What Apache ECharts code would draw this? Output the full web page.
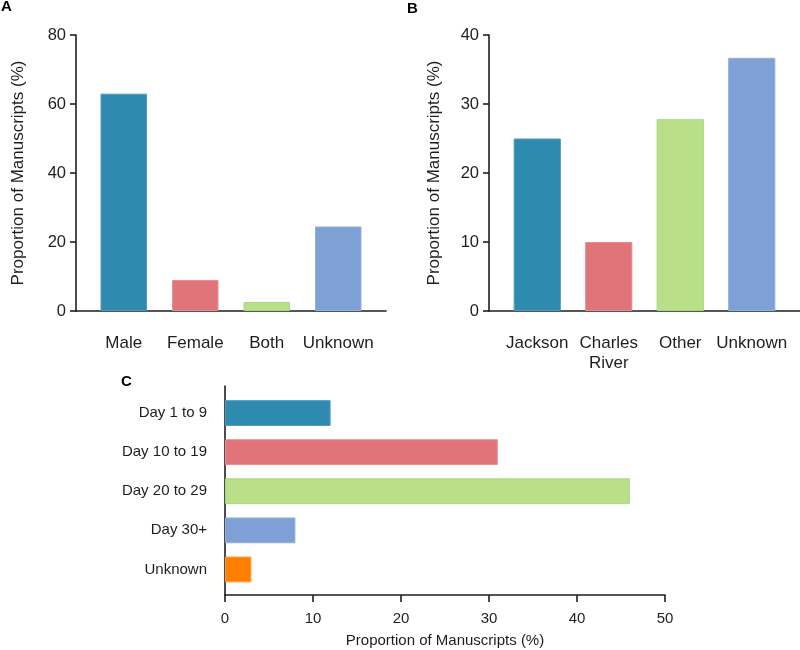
<!DOCTYPE html>
<html>
<head>
<meta charset="utf-8">
<script src="https://cdn.jsdelivr.net/npm/echarts@6/dist/echarts.min.js"></script>
<style>html,body{margin:0;padding:0;background:#fff}#c{width:800px;height:650px}</style>
</head>
<body>
<div id="c"></div>
<script>
// ---- Data ----
const sexCategories = ['Male', 'Female', 'Both', 'Unknown'];
const sexValues = [63, 9, 2.6, 24.5];
const sexTicks = [0, 20, 40, 60, 80];

const vendorCategories = ['Jackson', 'Charles\nRiver', 'Other', 'Unknown'];
const vendorValues = [25, 10, 27.8, 36.7];
const vendorTicks = [0, 10, 20, 30, 40];

const ageCategories = ['Day 1 to 9', 'Day 10 to 19', 'Day 20 to 29', 'Day 30+', 'Unknown'];
const ageValues = [12, 31, 46, 8, 3];
const ageTicks = [0, 10, 20, 30, 40, 50];

const yTitle = 'Proportion of Manuscripts (%)';
const panelLetters = ['A', 'B', 'C'];

// ---- Styles ----
const palette = ['#2e8aaf', '#e07479', '#b9df88', '#7ea0d4', '#ff8000'];
const borders = ['#4e9cbc', '#e98d91', '#a3da7f', '#92b0dc', '#ff9a33'];
const FONT = '"Liberation Sans", Arial, Helvetica, sans-serif';
const TXT = '#1e1e1e';
const LINE = { show: true, lineStyle: { color: '#1e1e1e', width: 1.6 } };

function colored(vals) {
  return vals.map((v, i) => ({
    value: v,
    itemStyle: { color: palette[i], borderColor: borders[i], borderWidth: 1 }
  }));
}

const chart = echarts.init(document.getElementById('c'), null, { renderer: 'canvas' });

const letterStyle = { fontFamily: FONT, fontWeight: 'bold', fontSize: 15, color: '#000' };

const option = {
  animation: false,
  backgroundColor: '#fff',
  textStyle: { fontFamily: FONT, color: TXT },
  title: [
    { text: panelLetters[0], left: -4, top: -6, textStyle: letterStyle },
    { text: panelLetters[1], left: 402, top: -4, textStyle: letterStyle },
    { text: panelLetters[2], left: 116, top: 369, textStyle: letterStyle }
  ],
  grid: [
    { left: 88, top: 35, width: 286, height: 276, containLabel: false },      // 0 A bars
    { left: 501.5, top: 35, width: 286, height: 276, containLabel: false },   // 1 B bars
    { left: 225, top: 393.5, width: 440, height: 195.5, containLabel: false },// 2 C bars
    { left: 76, top: 35, width: 310, height: 276, containLabel: false },      // 3 A baseline
    { left: 489, top: 35, width: 311, height: 276, containLabel: false },     // 4 B baseline
    { left: 225, top: 386, width: 440, height: 209, containLabel: false }     // 5 C vertical line
  ],
  xAxis: [
    {
      gridIndex: 0, type: 'category', data: sexCategories,
      axisLine: { show: false }, axisTick: { show: false },
      axisLabel: { color: TXT, fontSize: 17, fontFamily: FONT, margin: 24, interval: 0 }
    },
    {
      gridIndex: 1, type: 'category', data: vendorCategories,
      axisLine: { show: false }, axisTick: { show: false },
      axisLabel: { color: TXT, fontSize: 17, fontFamily: FONT, margin: 22, lineHeight: 20, interval: 0 }
    },
    {
      gridIndex: 2, type: 'value', min: ageTicks[0], max: ageTicks[ageTicks.length - 1], interval: 10,
      offset: 6,
      axisLine: LINE,
      axisTick: { show: true, length: 7, lineStyle: { color: '#1e1e1e', width: 1.6 } },
      splitLine: { show: false },
      axisLabel: { color: TXT, fontSize: 15, fontFamily: FONT, margin: 16 },
      name: yTitle, nameLocation: 'middle', nameGap: 38,
      nameTextStyle: { color: TXT, fontSize: 15, fontFamily: FONT }
    },
    { gridIndex: 3, type: 'value', min: 0, max: 1, axisLine: LINE, axisTick: { show: false }, axisLabel: { show: false }, splitLine: { show: false } },
    { gridIndex: 4, type: 'value', min: 0, max: 1, axisLine: LINE, axisTick: { show: false }, axisLabel: { show: false }, splitLine: { show: false } },
    { gridIndex: 5, type: 'value', min: 0, max: 1, show: false }
  ],
  yAxis: [
    {
      gridIndex: 0, type: 'value', min: sexTicks[0], max: sexTicks[sexTicks.length - 1], interval: 20,
      offset: 12,
      axisLine: LINE,
      axisTick: { show: true, length: 6, lineStyle: { color: '#1e1e1e', width: 1.6 } },
      splitLine: { show: false },
      axisLabel: { color: TXT, fontSize: 16.5, fontFamily: FONT, margin: 10 },
      name: yTitle, nameLocation: 'middle', nameGap: 49,
      nameTextStyle: { color: TXT, fontSize: 17, fontFamily: FONT }
    },
    {
      gridIndex: 1, type: 'value', min: vendorTicks[0], max: vendorTicks[vendorTicks.length - 1], interval: 10,
      offset: 12.5,
      axisLine: LINE,
      axisTick: { show: true, length: 6, lineStyle: { color: '#1e1e1e', width: 1.6 } },
      splitLine: { show: false },
      axisLabel: { color: TXT, fontSize: 16.5, fontFamily: FONT, margin: 10 },
      name: yTitle, nameLocation: 'middle', nameGap: 46,
      nameTextStyle: { color: TXT, fontSize: 17, fontFamily: FONT }
    },
    {
      gridIndex: 2, type: 'category', data: ageCategories, inverse: true,
      axisLine: { show: false }, axisTick: { show: false },
      axisLabel: { color: TXT, fontSize: 15, fontFamily: FONT, margin: 18, interval: 0 }
    },
    { gridIndex: 3, type: 'value', min: 0, max: 1, show: false },
    { gridIndex: 4, type: 'value', min: 0, max: 1, show: false },
    { gridIndex: 5, type: 'value', min: 0, max: 1, axisLine: LINE, axisTick: { show: false }, axisLabel: { show: false }, splitLine: { show: false } }
  ],
  series: [
    { type: 'bar', xAxisIndex: 0, yAxisIndex: 0, data: colored(sexValues), barCategoryGap: '35%' },
    { type: 'bar', xAxisIndex: 1, yAxisIndex: 1, data: colored(vendorValues), barCategoryGap: '34%' },
    { type: 'bar', xAxisIndex: 2, yAxisIndex: 2, data: colored(ageValues), barCategoryGap: '34%' }
  ]
};
chart.setOption(option);
</script>
</body>
</html>
